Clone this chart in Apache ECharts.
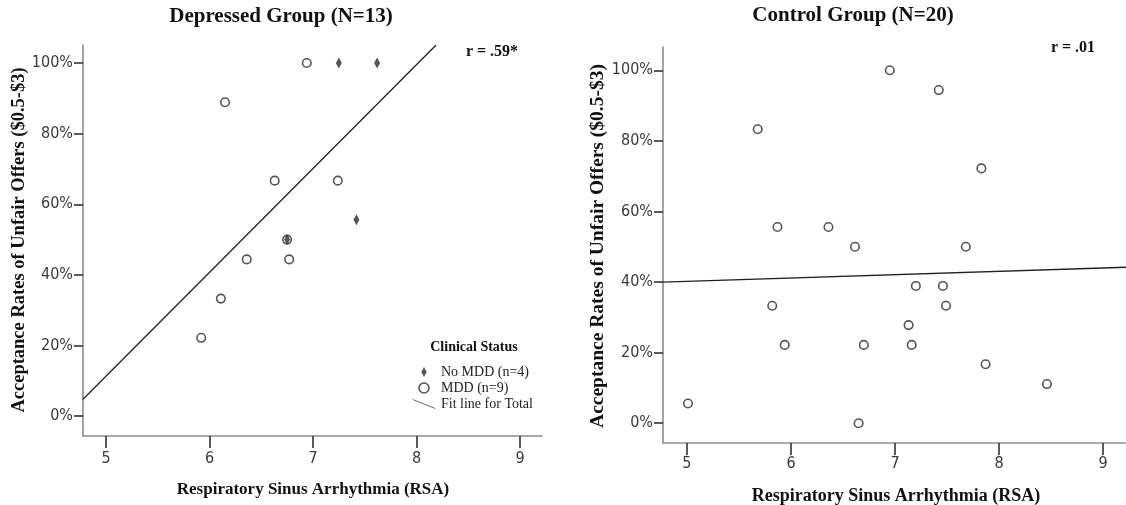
<!DOCTYPE html>
<html>
<head>
<meta charset="utf-8">
<script src="https://cdn.jsdelivr.net/npm/echarts@6/dist/echarts.min.js"></script>
<style>
html,body{margin:0;padding:0;background:#fff;}
#chart{width:1126px;height:505px;}
</style>
</head>
<body>
<div id="chart"></div>
<script>
// ---- data ----
const xTicks = [5, 6, 7, 8, 9];
const yTicks = [0, 20, 40, 60, 80, 100];

// Depressed group (N=13)
const depNoMddRSA  = [7.25, 7.62, 7.42, 6.75];
const depNoMddRate = [100, 100, 55.6, 50];
const depMddRSA    = [6.94, 6.15, 6.63, 7.24, 6.75, 6.36, 6.77, 6.11, 5.92];
const depMddRate   = [100, 88.9, 66.7, 66.7, 50, 44.4, 44.4, 33.3, 22.2];
const depFitRSA    = [4.778, 8.19];
const depFitRate   = [4.8, 105.1];

// Control group (N=20)
const ctlRSA  = [6.95, 7.42, 5.68, 7.83, 5.87, 6.36, 6.615, 7.68, 7.20, 7.46,
                 5.82, 7.49, 7.13, 5.94, 6.70, 7.16, 7.87, 8.46, 5.01, 6.65];
const ctlRate = [100, 94.4, 83.3, 72.2, 55.6, 55.6, 50, 50, 38.9, 38.9,
                 33.3, 33.3, 27.8, 22.2, 22.2, 22.2, 16.7, 11.1, 5.6, 0];
const ctlFitRSA  = [4.77, 9.22];
const ctlFitRate = [40.0, 44.2];

const zip = (a, b) => a.map((v, i) => [v, b[i]]);

const serif = '"Liberation Serif", "Times New Roman", serif';
const narrow = '"Liberation Sans Narrow", "DejaVu Sans Condensed", "Liberation Sans", sans-serif';
const markColor = '#2b2b2b';

function makeX(gridIndex, min, max, margin) {
  return {
    type: 'value', gridIndex, min, max,
    axisLine: { show: true, onZero: false, lineStyle: { color: '#8c8c8c', width: 1.6 } },
    axisTick: { show: true, length: 12, customValues: xTicks, lineStyle: { color: '#333', width: 1.6 } },
    axisLabel: { customValues: xTicks, margin, fontFamily: narrow, fontSize: 16, color: '#3a3a3a' },
    splitLine: { show: false }
  };
}
function makeY(gridIndex, min, max) {
  return {
    type: 'value', gridIndex, min, max,
    axisLine: { show: true, onZero: false, lineStyle: { color: '#8c8c8c', width: 1.6 } },
    axisTick: { show: true, length: 9, customValues: yTicks, lineStyle: { color: '#333', width: 1.6 } },
    axisLabel: { customValues: yTicks, margin: 10, fontFamily: narrow, fontSize: 16, color: '#3a3a3a',
                 formatter: v => v + '%' },
    splitLine: { show: false }
  };
}

const circleStyle = { color: '#fff', borderColor: markColor, borderWidth: 1.6 };
const diamondPath = 'path://M3,0 L6,5.5 L3,11 L0,5.5 Z';
const fitIcon = 'path://M0,0 L1.6,0 L24,9 L22.4,9 Z';

function txt(x, y, text, font, extra) {
  return Object.assign({
    type: 'text', x, y, silent: true,
    style: { text, font, fill: '#111', align: 'center', verticalAlign: 'middle' }
  }, extra || {});
}

const option = {
  animation: false,
  backgroundColor: '#fff',
  grid: [
    { left: 83, top: 45, width: 459, height: 391 },
    { left: 663, top: 47, width: 462, height: 396 }
  ],
  xAxis: [ makeX(0, 4.778, 9.213, 15), makeX(1, 4.77, 9.21, 13) ],
  yAxis: [ makeY(0, -5.6, 105.1), makeY(1, -5.6, 106.6) ],
  legend: {
    orient: 'vertical', left: 412, top: 364, padding: 0,
    itemWidth: 24, itemHeight: 10, itemGap: 0,
    selectedMode: false,
    textStyle: { fontFamily: serif, fontSize: 14, color: '#222', lineHeight: 16 },
    data: [
      { name: 'No MDD (n=4)', icon: diamondPath, itemStyle: { color: markColor, borderWidth: 0 } },
      { name: 'MDD (n=9)', icon: 'circle', itemStyle: circleStyle },
      { name: 'Fit line for Total', icon: fitIcon, itemStyle: { color: '#222', borderWidth: 0 } }
    ]
  },
  series: [
    { name: 'Fit line for Total', type: 'line', xAxisIndex: 0, yAxisIndex: 0,
      data: zip(depFitRSA, depFitRate), showSymbol: false, symbol: 'none',
      lineStyle: { color: '#222', width: 1.3 }, itemStyle: { color: '#222' }, z: 2 },
    { name: 'MDD (n=9)', type: 'scatter', xAxisIndex: 0, yAxisIndex: 0,
      data: zip(depMddRSA, depMddRate), symbol: 'circle', symbolSize: 8.5,
      itemStyle: circleStyle, z: 3 },
    { name: 'No MDD (n=4)', type: 'scatter', xAxisIndex: 0, yAxisIndex: 0,
      data: zip(depNoMddRSA, depNoMddRate), symbol: 'diamond', symbolSize: [6, 11],
      itemStyle: { color: markColor }, z: 4 },
    { name: 'Control fit', type: 'line', xAxisIndex: 1, yAxisIndex: 1,
      data: zip(ctlFitRSA, ctlFitRate), showSymbol: false, symbol: 'none',
      lineStyle: { color: '#222', width: 1.3 }, z: 2 },
    { name: 'Control', type: 'scatter', xAxisIndex: 1, yAxisIndex: 1,
      data: zip(ctlRSA, ctlRate), symbol: 'circle', symbolSize: 8.5,
      itemStyle: circleStyle, z: 3 }
  ],
  graphic: [
    txt(281, 17, 'Depressed Group (N=13)', 'bold 21px ' + serif),
    txt(853, 16, 'Control Group (N=20)', 'bold 21px ' + serif),
    txt(313, 490, 'Respiratory Sinus Arrhythmia (RSA)', 'bold 17px ' + serif),
    txt(896, 496, 'Respiratory Sinus Arrhythmia (RSA)', 'bold 18px ' + serif),
    txt(19, 240, 'Acceptance Rates of Unfair Offers ($0.5-$3)', 'bold 18.5px ' + serif, { rotation: Math.PI / 2 }),
    txt(598, 246, 'Acceptance Rates of Unfair Offers ($0.5-$3)', 'bold 19.5px ' + serif, { rotation: Math.PI / 2 }),
    txt(492, 52, 'r = .59*', 'bold 16px ' + serif),
    txt(1073, 48, 'r = .01', 'bold 16px ' + serif),
    txt(474, 347, 'Clinical Status', 'bold 14px ' + serif)
  ]
};

const chart = echarts.init(document.getElementById('chart'), null, { renderer: 'canvas' });
chart.setOption(option);
</script>
</body>
</html>
